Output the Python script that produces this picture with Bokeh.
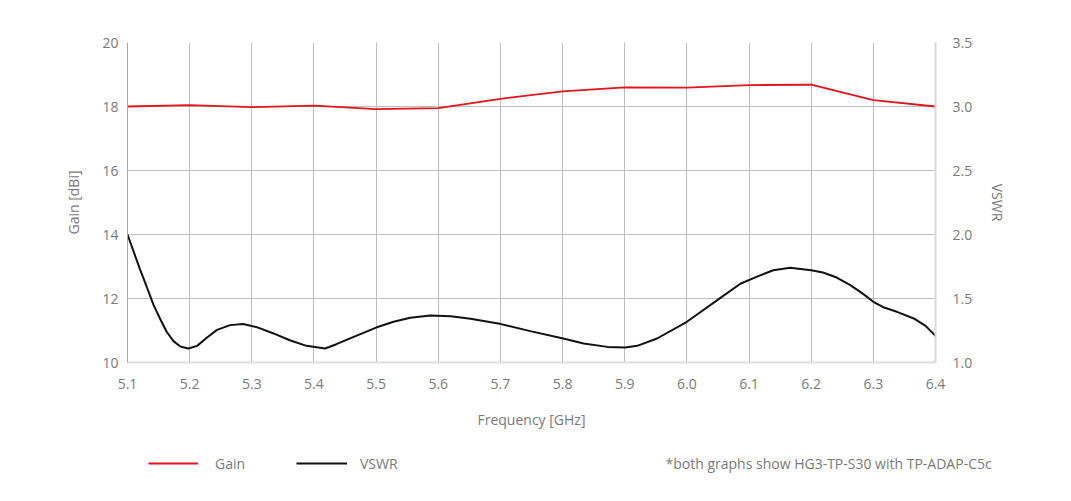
from bokeh.plotting import figure
from bokeh.models import (Range1d, LinearAxis, FixedTicker, Label, Legend, LegendItem,
                          NumeralTickFormatter)
from bokeh.layouts import column, row
from bokeh.embed import file_html
from bokeh.resources import INLINE

# ---- data ----
freq = [5.1, 5.2, 5.3, 5.4, 5.5, 5.6, 5.7, 5.8, 5.9, 6.0, 6.1, 6.2, 6.3, 6.4]
gain = [18.0, 18.04, 17.98, 18.03, 17.92, 17.95, 18.24, 18.47, 18.6, 18.59, 18.67, 18.68, 18.2, 18.0]

vswr_freq = [5.1, 5.1096, 5.12, 5.131, 5.142, 5.153, 5.163, 5.174, 5.185, 5.198, 5.212,
             5.2275, 5.244, 5.265, 5.286, 5.308, 5.335, 5.361, 5.388, 5.418, 5.436, 5.463,
             5.5, 5.528, 5.555, 5.587, 5.620, 5.652, 5.701, 5.748, 5.801, 5.834, 5.872,
             5.901, 5.92, 5.952, 6.0, 6.054, 6.086, 6.112, 6.139, 6.166, 6.2, 6.219, 6.241,
             6.263, 6.284, 6.3, 6.316, 6.338, 6.365, 6.384, 6.4]
vswr = [2.0, 1.87, 1.73, 1.59, 1.448, 1.336, 1.24, 1.167, 1.125, 1.109, 1.13,
        1.193, 1.255, 1.292, 1.30, 1.276, 1.227, 1.174, 1.13, 1.109, 1.143, 1.198,
        1.273, 1.318, 1.349, 1.367, 1.362, 1.341, 1.30, 1.245, 1.1875, 1.148, 1.122,
        1.117, 1.13, 1.1875, 1.318, 1.505, 1.615, 1.669, 1.721, 1.74, 1.721, 1.703, 1.664,
        1.604, 1.534, 1.474, 1.432, 1.396, 1.344, 1.286, 1.208]

x_ticks = [5.1, 5.2, 5.3, 5.4, 5.5, 5.6, 5.7, 5.8, 5.9, 6.0, 6.1, 6.2, 6.3, 6.4]
gain_ticks = [10, 12, 14, 16, 18, 20]
vswr_ticks = [1.0, 1.5, 2.0, 2.5, 3.0, 3.5]
footnote = "*both graphs show HG3-TP-S30 with TP-ADAP-C5c"

FONT = "Open Sans"
TXT = "#7a7a7a"
GRID = "#bdbdbd"
RED = "#e3141b"
BLACK = "#111111"
W = 1063

p = figure(width=W, height=440, output_backend="svg", toolbar_location=None,
           x_range=Range1d(5.1, 6.4), y_range=Range1d(10, 20),
           min_border_left=127, min_border_right=128, min_border_top=42, min_border_bottom=78)
p.frame_width = 808
p.frame_height = 320
p.outline_line_color = None

p.extra_y_ranges = {"vswr": Range1d(1.0, 3.5)}

p.xgrid.ticker = FixedTicker(ticks=x_ticks)
p.ygrid.ticker = FixedTicker(ticks=gain_ticks)
for g in (p.xgrid, p.ygrid):
    g.grid_line_color = GRID
    g.grid_line_width = 1

def style_axis(ax):
    ax.major_tick_line_color = None
    ax.minor_tick_line_color = None
    ax.major_tick_out = 0
    ax.major_tick_in = 0
    ax.minor_tick_out = 0
    ax.minor_tick_in = 0
    ax.major_label_text_font = FONT
    ax.major_label_text_font_size = "14px"
    ax.major_label_text_color = TXT
    ax.axis_label_text_font = FONT
    ax.axis_label_text_font_size = "14px"
    ax.axis_label_text_font_style = "normal"
    ax.axis_label_text_color = TXT

xa = p.xaxis[0]
xa.ticker = FixedTicker(ticks=x_ticks)
xa.formatter = NumeralTickFormatter(format="0.0")
xa.axis_label = "Frequency [GHz]"
style_axis(xa)
xa.axis_line_color = "#dcdcdc"
xa.axis_line_width = 2
xa.major_label_standoff = 16
xa.axis_label_standoff = 18

ya = p.yaxis[0]
ya.ticker = FixedTicker(ticks=gain_ticks)
ya.axis_label = "Gain [dBi]"
style_axis(ya)
ya.axis_line_color = "#a8a8a8"
ya.major_label_standoff = 9
ya.axis_label_standoff = 16

ra = LinearAxis(y_range_name="vswr", ticker=FixedTicker(ticks=vswr_ticks),
                formatter=NumeralTickFormatter(format="0.0"), axis_label="VSWR")
style_axis(ra)
ra.axis_line_color = "#d8d8d8"
ra.axis_line_width = 2
ra.major_label_standoff = 17
ra.axis_label_standoff = 13
ra.axis_label_orientation = "vertical"
p.add_layout(ra, "right")

p.line(freq, gain, line_color=RED, line_width=1.8)
p.line(vswr_freq, vswr, y_range_name="vswr", line_color=BLACK, line_width=2)

# ---- legend strip (pixel-based ranges) ----
s = figure(width=W, height=50, output_backend="svg", toolbar_location=None,
           x_range=Range1d(0, W), y_range=Range1d(0, 50),
           x_axis_type=None, y_axis_type=None, min_border=0)
s.outline_line_color = None
s.grid.visible = False
# off-screen ranges so the legend proxies themselves are not visible
s.extra_x_ranges = {"off": Range1d(100, 200)}
s.extra_y_ranges = {"off": Range1d(100, 200)}

g_proxy = s.line(freq, gain, x_range_name="off", y_range_name="off",
                 line_color=RED, line_width=1.8)
v_proxy = s.line(vswr_freq, vswr, x_range_name="off", y_range_name="off",
                 line_color=BLACK, line_width=2)

for r, lab, x0, gw, st in ((g_proxy, "Gain", 148, 50, 17), (v_proxy, "VSWR", 296, 51, 13)):
    lg = Legend(items=[LegendItem(label=lab, renderers=[r])], location=(x0, 17),
                orientation="horizontal", glyph_width=gw, glyph_height=20, label_height=20,
                label_standoff=st, padding=0, margin=0, spacing=0,
                border_line_alpha=0, background_fill_alpha=0,
                label_text_font=FONT, label_text_font_size="14px", label_text_color=TXT)
    s.add_layout(lg, "center")

note = Label(x=665, y=27, text=footnote,
             text_align="left", text_baseline="middle", text_font=FONT,
             text_font_size="14px", text_color=TXT)
s.add_layout(note)

layout = column(p, row(s), spacing=0)
open("out.html", "w").write(file_html(layout, INLINE))
